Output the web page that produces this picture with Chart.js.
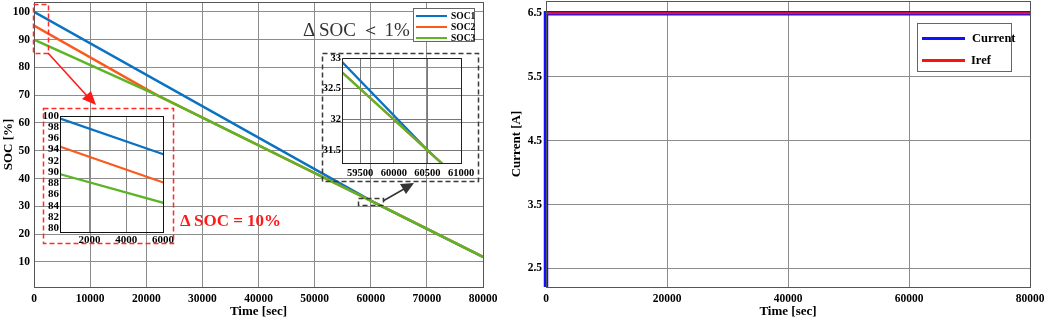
<!DOCTYPE html>
<html>
<head>
<meta charset="utf-8">
<script src="https://cdn.jsdelivr.net/npm/chart.js@4.4.0/dist/chart.umd.min.js"></script>
<style>
    body { margin: 0; width: 1045px; height: 320px; background: #fff; overflow: hidden; position: relative; font-family: "Liberation Serif", serif; }
    canvas, .abs { position: absolute; }
    .legend { background: #fff; border: 1px solid #666; box-sizing: border-box; }
    .row { position: absolute; display: flex; align-items: center; font-weight: bold; color: #000; white-space: nowrap; }
    .swatch { display: inline-block; }
</style>
</head>
<body>
<canvas id="socChart" width="520" height="320" style="left:0;top:0"></canvas>
<canvas id="zoomStart" width="140" height="142" style="left:40px;top:108px"></canvas>
<canvas id="zoomEnd" width="160" height="132" style="left:318px;top:52px"></canvas>
<canvas id="currentChart" width="545" height="320" style="left:500px;top:0"></canvas>

<svg class="abs" width="1045" height="320" style="left:0;top:0;pointer-events:none">
    <g fill="none" stroke-width="1.5" stroke-dasharray="5,3">
        <rect x="33.5" y="4.5" width="15" height="49" stroke="#ff2a2a"/>
        <rect x="43.5" y="108.5" width="130" height="135" stroke="#ff2a2a"/>
        <rect x="322.5" y="53.5" width="156" height="128" stroke="#3a3a3a"/>
        <rect x="358.5" y="198.5" width="25" height="7" stroke="#3a3a3a"/>
    </g>
    <line x1="48" y1="53" x2="88" y2="97" stroke="#ff1a1a" stroke-width="1.6"/>
    <polygon points="96,105 82,99 91,91" fill="#ff1a1a"/>
    <line x1="383" y1="201" x2="404" y2="189" stroke="#333" stroke-width="1.6"/>
    <polygon points="414,183 400,184 406,194" fill="#333"/>
</svg>

<div class="abs" style="left:303px;top:17px;font-size:19px;color:#333;white-space:nowrap">Δ SOC ＜ 1%</div>
<div class="abs" style="left:180px;top:211px;font-size:17px;font-weight:bold;color:#ff1a1a;white-space:nowrap">Δ SOC = 10%</div>

<div class="abs legend" style="left:413px;top:8px;width:62px;height:34px"></div>
<div id="socLegend"></div>
<div class="abs legend" style="left:917px;top:23px;width:95px;height:49px"></div>
<div id="currentLegend"></div>

<script>
// SOC curves (time in seconds, SOC in %)
const socTime1 = [0, 60500, 80000];
const soc1 = [100, 31.5, 11.8];
const socTime2 = [0, 21900, 60500, 80000];
const soc2 = [95, 70, 31.5, 11.8];
const socTime3 = [0, 21900, 60500, 80000];
const soc3 = [90, 70, 31.5, 11.8];
const socNames = ['SOC1', 'SOC2', 'SOC3'];

// tick labels
const socTimeTicks = [0, 10000, 20000, 30000, 40000, 50000, 60000, 70000, 80000];
const socTicks = [10, 20, 30, 40, 50, 60, 70, 80, 90, 100];
const zoomStartTimeTicks = [2000, 4000, 6000];
const zoomStartSocTicks = [80, 82, 84, 86, 88, 90, 92, 94, 96, 98, 100];
const zoomEndTimeTicks = [59500, 60000, 60500, 61000];
const zoomEndSocTicks = [31.5, 32, 32.5, 33];

// current plot
const currentTime = [0, 0, 80000];
const currentValues = [0, 6.5, 6.5];
const irefTime = [0, 80000];
const irefValues = [6.5, 6.5];
const currentTimeTicks = [0, 20000, 40000, 60000, 80000];
const currentTicks = [2.5, 3.5, 4.5, 5.5, 6.5];

const SOC_COLORS = ['#0a72c2', '#fa5a1e', '#5db526'];
const GRID = '#8c8c8c';
const FONT = 'Liberation Serif';

function points(xs, ys) {
    return xs.map((x, i) => ({ x: x, y: ys[i] }));
}

function fixedTicks(list) {
    return (scale) => { scale.ticks = list.map(v => ({ value: v })); };
}

// box around the plot area, like matlab
const frame = {
    id: 'frame',
    afterDraw(chart, args, opts) {
        const a = chart.chartArea;
        const ctx = chart.ctx;
        ctx.save();
        ctx.strokeStyle = opts.color || '#555';
        ctx.lineWidth = 1;
        ctx.strokeRect(Math.round(a.left) + 0.5, Math.round(a.top) + 0.5,
            Math.round(a.right - a.left), Math.round(a.bottom - a.top));
        ctx.restore();
    }
};

function axis(cfg) {
    const s = {
        type: 'linear',
        min: cfg.min,
        max: cfg.max,
        afterBuildTicks: fixedTicks(cfg.ticks),
        afterFit: (scale) => {
            if (cfg.height !== undefined) scale.height = cfg.height;
            if (cfg.width !== undefined) scale.width = cfg.width;
            scale.paddingLeft = 0;
            scale.paddingRight = 0;
            scale.paddingTop = 0;
            scale.paddingBottom = 0;
        },
        border: { display: false },
        grid: { display: cfg.grid !== false, color: cfg.gridColor || GRID, drawTicks: false },
        ticks: {
            autoSkip: false,
            maxRotation: 0,
            padding: cfg.tickPad || 4,
            color: '#000',
            font: { family: FONT, size: cfg.fontSize || 11.5, weight: 'bold' },
            callback: (v) => String(v)
        },
        title: { display: false }
    };
    if (cfg.title) {
        s.title = {
            display: true,
            text: cfg.title,
            color: '#000',
            font: { family: FONT, size: 13, weight: 'bold' },
            padding: cfg.titlePad || { top: 0, bottom: 0 }
        };
    }
    return s;
}

function socDatasets(width) {
    const xs = [socTime1, socTime2, socTime3];
    const ys = [soc1, soc2, soc3];
    return socNames.map((name, i) => ({
        label: name,
        data: points(xs[i], ys[i]),
        borderColor: SOC_COLORS[i],
        borderWidth: width,
        pointRadius: 0,
        tension: 0,
        order: 2 - i
    }));
}

const baseOptions = {
    responsive: false,
    animation: false,
    events: [],
    plugins: { legend: { display: false }, tooltip: { enabled: false } }
};

function makeChart(id, datasets, scales, padding, frameColor) {
    return new Chart(document.getElementById(id), {
        type: 'line',
        data: { datasets: datasets },
        options: Object.assign({}, baseOptions, {
            layout: { padding: padding },
            scales: scales,
            plugins: Object.assign({}, baseOptions.plugins, { frame: { color: frameColor } })
        }),
        plugins: [frame]
    });
}

// main SOC chart
makeChart('socChart', socDatasets(2.5), {
    x: axis({ min: 0, max: 80000, ticks: socTimeTicks, height: 33, title: 'Time [sec]', tickPad: 5, titlePad: { top: 0, bottom: 1 } }),
    y: axis({ min: 1, max: 103.5, ticks: socTicks, width: 34, title: 'SOC [%]', tickPad: 4, titlePad: { top: 1, bottom: 0 } })
}, { top: 2, right: 37, left: 0, bottom: 0 }, '#555');

// zoom on the start
makeChart('zoomStart', socDatasets(2.2), {
    x: axis({ min: 400, max: 6000, ticks: zoomStartTimeTicks, height: 18, fontSize: 11, tickPad: 2, gridColor: '#888' }),
    y: axis({ min: 79.3, max: 100, ticks: zoomStartSocTicks, width: 20, fontSize: 11, tickPad: 1, grid: false })
}, { top: 8, right: 17, left: 0, bottom: 0 }, '#111');

// zoom on the end
makeChart('zoomEnd', socDatasets(2.2), {
    x: axis({ min: 59230, max: 61000, ticks: zoomEndTimeTicks, height: 21, fontSize: 10.5, tickPad: 4, gridColor: '#777' }),
    y: axis({ min: 31.29, max: 33, ticks: zoomEndSocTicks, width: 24, fontSize: 10.5, tickPad: 1, gridColor: '#777' })
}, { top: 6, right: 17, left: 0, bottom: 0 }, '#222');

// current chart
makeChart('currentChart', [
    {
        label: 'Current',
        data: points(currentTime, currentValues),
        borderColor: '#1010ff',
        borderWidth: 4.5,
        pointRadius: 0,
        clip: { left: 3, top: 3, right: 0, bottom: 0 },
        order: 1
    },
    {
        label: 'Iref',
        data: points(irefTime, irefValues),
        borderColor: '#ff1010',
        borderWidth: 2,
        pointRadius: 0,
        order: 0
    }
], {
    x: axis({ min: 0, max: 80000, ticks: currentTimeTicks, height: 33, title: 'Time [sec]', tickPad: 5, titlePad: { top: 0, bottom: 1 } }),
    y: axis({ min: 2.21, max: 6.69, ticks: currentTicks, width: 46, title: 'Current [A]', tickPad: 4, titlePad: { top: 9, bottom: 0 } })
}, { top: 1, right: 15, left: 0, bottom: 0 }, '#555');

// html legends
function legend(el, items, x, y0, dy, lineW, fontSize) {
    const box = document.getElementById(el);
    box.innerHTML = items.map((it, i) => `
        <div class="row" style="left:${x}px;top:${y0 + i * dy - 8}px;height:16px;font-size:${fontSize}px">
            <span class="swatch" style="width:${lineW}px;height:${it.w}px;background:${it.color}"></span>
            <span style="margin-left:${it.gap}px">${it.name}</span>
        </div>`).join('');
}

legend('socLegend', socNames.map((n, i) => ({ name: n, color: SOC_COLORS[i], w: 2.5, gap: 4 })), 416, 16, 11, 31, 9.5);
legend('currentLegend', [
    { name: 'Current', color: '#1010ff', w: 3, gap: 7 },
    { name: 'Iref', color: '#ff1010', w: 3, gap: 6 }
], 922, 38, 22, 43, 12.5);
</script>
</body>
</html>
